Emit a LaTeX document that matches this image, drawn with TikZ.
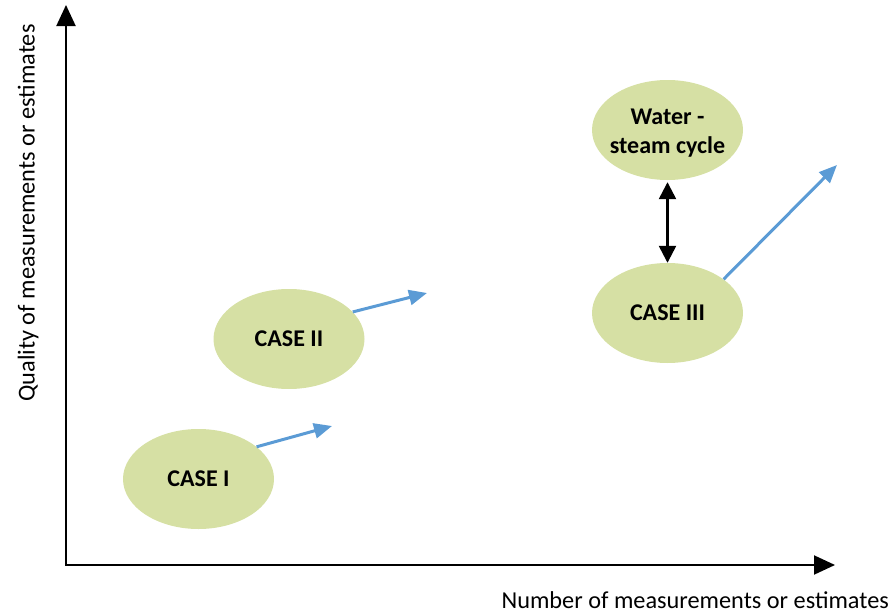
\documentclass[tikz,border=0pt]{standalone}
\usepackage{fontspec}
\setmainfont{Carlito}
\usetikzlibrary{shapes.geometric,arrows.meta}
\definecolor{leaf}{RGB}{214,224,164}
\definecolor{flow}{RGB}{91,155,213}
\tikzset{
  bubble/.style={ellipse,fill=leaf,draw=none,minimum width=151pt,minimum height=100pt,
    inner sep=0pt,align=center,font=\fontsize{24}{30}\selectfont\bfseries},
  bubbletext/.style={inner sep=0pt,align=center,font=\fontsize{24}{29.5}\selectfont\bfseries},
  axis/.style={line width=2pt,-{Triangle[length=21pt,width=19pt]}},
  trend/.style={flow,line width=3pt,-{Triangle[length=18pt,width=15pt]}},
  link/.style={line width=2.5pt,{Triangle[length=17pt,width=17pt]}-{Triangle[length=17pt,width=17pt]}},
  axislabel/.style={font=\fontsize{24.3}{28}\selectfont,inner sep=0pt}
}
\begin{document}
\begin{tikzpicture}[x=1pt,y=-1pt]
  \useasboundingbox (0,0) rectangle (895,613);
  % axes
  \coordinate (origin) at (66,565);
  \coordinate (ytip) at (66,5);
  \coordinate (xtip) at (835,565);
  \draw[axis] (origin) -- (ytip);
  \draw[axis] ([xshift=-1pt]origin) -- (xtip);
  \node[axislabel,anchor=base east] (xlabel) at (889,608) {Number of measurements or estimates};
  \node[axislabel,rotate=90,anchor=base] (ylabel) at (34.5,213) {Quality of measurements or estimates};
  % cases
  \node[bubble] (case1) at (198.5,479) {CASE I};
  \node[bubble] (case2) at (289,339) {CASE II};
  \node[bubble] (case3) at (667.5,313) {CASE III};
  \node[bubble] (water) at (667.5,130) {};
  \node[bubbletext] (watertext) at ([yshift=-3pt]water.center) {Water -\\steam cycle};
  % trends
  \coordinate (t1) at (332,426);
  \coordinate (t2) at (427,293);
  \coordinate (t3) at (837,165);
  \draw[trend] (case1.29) -- (t1);
  \draw[trend] (case2.23) -- (t2);
  \draw[trend] (case3.31.5) -- (t3);
  \draw[link,shorten <=2pt] (water.south) -- (case3.north);
\end{tikzpicture}
\end{document}
